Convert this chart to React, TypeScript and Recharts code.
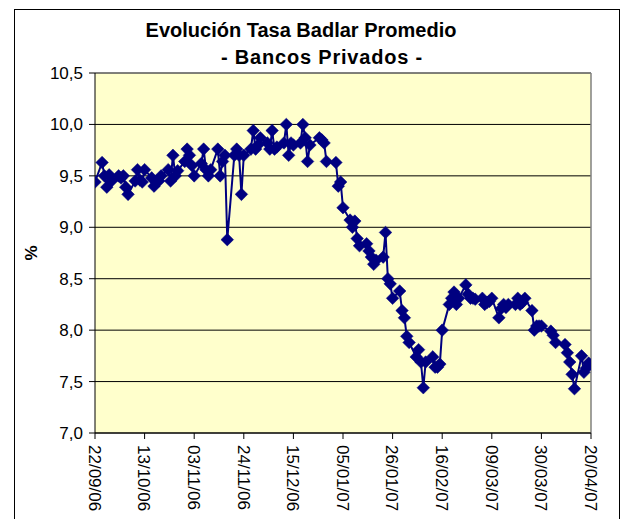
import React from "react";
import {
  LineChart,
  Line,
  XAxis,
  YAxis,
  CartesianGrid,
  ReferenceLine,
  Label,
} from "recharts";

// ---- data ----
const dates: string[] = [
  "22/09/06", "25/09/06", "26/09/06", "27/09/06", "28/09/06", "29/09/06",
  "02/10/06", "03/10/06", "04/10/06", "05/10/06", "06/10/06",
  "09/10/06", "10/10/06", "11/10/06", "12/10/06", "13/10/06",
  "16/10/06", "17/10/06", "18/10/06", "19/10/06", "20/10/06",
  "23/10/06", "24/10/06", "25/10/06", "26/10/06", "27/10/06",
  "30/10/06", "31/10/06",
  "01/11/06", "02/11/06", "03/11/06",
  "06/11/06", "07/11/06", "08/11/06", "09/11/06", "10/11/06",
  "13/11/06", "14/11/06", "15/11/06", "16/11/06", "17/11/06",
  "20/11/06", "21/11/06", "22/11/06", "23/11/06", "24/11/06",
  "27/11/06", "28/11/06", "29/11/06", "30/11/06",
  "01/12/06",
  "04/12/06", "05/12/06", "06/12/06", "07/12/06", "08/12/06",
  "11/12/06", "12/12/06", "13/12/06", "14/12/06", "15/12/06",
  "18/12/06", "19/12/06", "20/12/06", "21/12/06", "22/12/06",
  "26/12/06", "27/12/06", "28/12/06", "29/12/06",
  "02/01/07", "03/01/07", "04/01/07", "05/01/07",
  "08/01/07", "09/01/07", "10/01/07", "11/01/07", "12/01/07",
  "15/01/07", "16/01/07", "17/01/07", "18/01/07", "19/01/07",
  "22/01/07", "23/01/07", "24/01/07", "25/01/07", "26/01/07",
  "29/01/07", "30/01/07", "31/01/07",
  "01/02/07", "02/02/07",
  "05/02/07", "06/02/07", "07/02/07", "08/02/07", "09/02/07",
  "12/02/07", "13/02/07", "14/02/07", "15/02/07", "16/02/07",
  "19/02/07", "20/02/07", "21/02/07", "22/02/07", "23/02/07",
  "26/02/07", "27/02/07", "28/02/07",
  "01/03/07", "02/03/07",
  "05/03/07", "06/03/07", "07/03/07", "08/03/07", "09/03/07",
  "12/03/07", "13/03/07", "14/03/07", "15/03/07", "16/03/07",
  "19/03/07", "20/03/07", "21/03/07", "22/03/07", "23/03/07",
  "26/03/07", "27/03/07", "28/03/07", "29/03/07", "30/03/07",
  "03/04/07", "04/04/07", "05/04/07",
  "09/04/07", "10/04/07", "11/04/07", "12/04/07", "13/04/07",
  "16/04/07", "17/04/07", "18/04/07", "19/04/07",
];

const rates: number[] = [
  9.44, 9.63, 9.5, 9.39, 9.51, 9.45,
  9.5, 9.48, 9.5, 9.39, 9.32,
  9.45, 9.56, 9.46, 9.44, 9.56,
  9.48, 9.4, 9.44, 9.45, 9.5,
  9.56, 9.45, 9.7, 9.5, 9.55,
  9.64, 9.76,
  9.7, 9.6, 9.5,
  9.62, 9.76, 9.56, 9.5, 9.56,
  9.76, 9.5, 9.64, 9.7, 8.88,
  9.7, 9.76, 9.7, 9.32, 9.7,
  9.76, 9.94, 9.76, 9.8,
  9.87,
  9.82, 9.76, 9.94, 9.76, 9.78,
  9.82, 10.0, 9.7, 9.82, 9.8,
  9.82, 10.0, 9.87, 9.64, 9.8,
  9.87, 9.85, 9.82, 9.64,
  9.63, 9.4, 9.44, 9.19,
  9.07, 9.0, 9.06, 8.89, 8.82,
  8.84, 8.77, 8.71, 8.64, 8.68,
  8.71, 8.95, 8.5, 8.45, 8.31,
  8.38, 8.19, 8.12,
  7.94, 7.88,
  7.74, 7.81, 7.69, 7.44, 7.69,
  7.74, 7.64, 7.64, 7.67, 8.0,
  8.25, 8.31, 8.37, 8.25, 8.31,
  8.44, 8.35, 8.31,
  8.31, 8.3,
  8.31, 8.25, 8.27, 8.28, 8.31,
  8.12, 8.21, 8.25, 8.22, 8.25,
  8.25, 8.31, 8.25, 8.27, 8.31,
  8.19, 8.0, 8.04, 8.04, 8.04,
  7.99, 7.95, 7.88,
  7.86, 7.78, 7.69, 7.57, 7.43,
  7.75, 7.59, 7.63, 7.68,
];

const xTickLabels: string[] = [
  "22/09/06", "13/10/06", "03/11/06", "24/11/06", "15/12/06", "05/01/07",
  "26/01/07", "16/02/07", "09/03/07", "30/03/07", "20/04/07",
];

const yTicks: number[] = [7.0, 7.5, 8.0, 8.5, 9.0, 9.5, 10.0, 10.5];

const titleLine1 = "Evolución Tasa Badlar Promedio";
const titleLine2 = "- Bancos Privados -";
const yAxisTitle = "%";

// ---- helpers ----
const dayNumber = (s: string): number => {
  const [d, m, y] = s.split("/").map(Number);
  return Date.UTC(2000 + y, m - 1, d) / 86400000;
};
const start = dayNumber(dates[0]);
const data = dates.map((s, i) => ({ t: dayNumber(s) - start, label: s, v: rates[i] }));
const xTicks = xTickLabels.map((s) => dayNumber(s) - start);
const labelFor = (t: number): string => {
  const i = xTicks.indexOf(t);
  return i >= 0 ? xTickLabels[i] : "";
};

const FONT = "Arial, 'Liberation Sans', sans-serif";
const NAVY = "#000080";

const Diamond = (props: any) => {
  const { cx, cy } = props;
  if (cx == null || cy == null) return null;
  const r = 6.3;
  return (
    <polygon
      points={`${cx},${cy - r} ${cx + r},${cy} ${cx},${cy + r} ${cx - r},${cy}`}
      fill={NAVY}
      stroke={NAVY}
      strokeWidth={0.5}
    />
  );
};

const XTick = (props: any) => {
  const { x, y, payload } = props;
  return (
    <text
      transform={`translate(${x},${y + 4}) rotate(90)`}
      textAnchor="start"
      dy="0.36em"
      fontSize={17}
      fontFamily={FONT}
      fill="#000"
    >
      {labelFor(payload.value)}
    </text>
  );
};

export default function App() {
  return (
    <div style={{ position: "absolute", left: 0, top: 0, width: 622, height: 519, background: "#fff", overflow: "hidden" }}>
      <svg width={622} height={519} style={{ position: "absolute", left: 0, top: 0 }}>
        <rect x={14.5} y={9.5} width={605} height={530} fill="#fff" stroke="#000" strokeWidth={1} />
        <text x={301} y={37} textAnchor="middle" fontSize={20} fontWeight="bold" fontFamily={FONT} fill="#000">
          {titleLine1}
        </text>
        <text x={322} y={64} textAnchor="middle" fontSize={20} fontWeight="bold" fontFamily={FONT} letterSpacing={0.8} fill="#000">
          {titleLine2}
        </text>
      </svg>
      <div style={{ position: "absolute", left: 0, top: 0 }}>
        <LineChart
          width={622}
          height={519}
          data={data}
          margin={{ top: 73, right: 31, bottom: 0, left: 0 }}
        >
          <CartesianGrid vertical={false} stroke="#000" strokeWidth={1} fill="#FFFFCC" />
          <XAxis
            dataKey="t"
            type="number"
            domain={[0, 210]}
            ticks={xTicks}
            interval={0}
            height={86}
            tick={<XTick />}
            tickSize={6}
            stroke="#000"
            allowDataOverflow
          />
          <YAxis
            type="number"
            domain={[7, 10.5]}
            ticks={yTicks}
            interval={0}
            width={95}
            tickSize={6}
            tickMargin={6}
            stroke="#000"
            tick={{ fontSize: 17, fontFamily: FONT, fill: "#000" }}
            tickFormatter={(v: number) => v.toFixed(1).replace(".", ",")}
            allowDataOverflow
          >
            <Label
              value={yAxisTitle}
              angle={-90}
              position="insideLeft"
              offset={31}
              style={{ fontSize: 17, fontWeight: "bold", fontFamily: FONT, fill: "#000", textAnchor: "middle" }}
            />
          </YAxis>
          <ReferenceLine y={10.5} stroke="#808080" strokeWidth={1} ifOverflow="visible" />
          <ReferenceLine x={210} stroke="#808080" strokeWidth={1.5} ifOverflow="visible" />
          <Line
            type="linear"
            dataKey="v"
            stroke={NAVY}
            strokeWidth={2}
            dot={<Diamond />}
            activeDot={false}
            isAnimationActive={false}
          />
        </LineChart>
      </div>
    </div>
  );
}
